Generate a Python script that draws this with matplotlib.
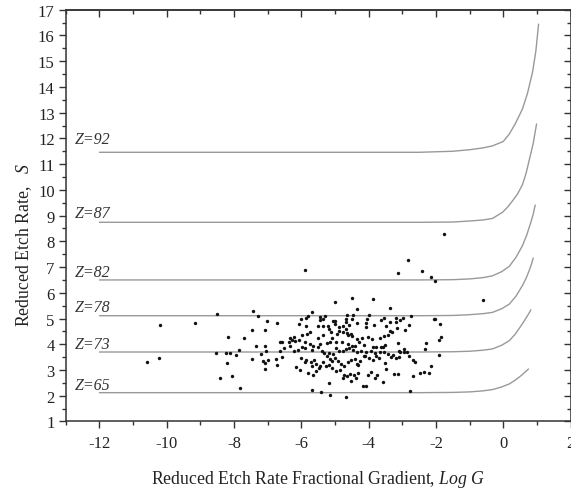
import matplotlib
matplotlib.use("Agg")
import matplotlib.pyplot as plt
from matplotlib.ticker import MultipleLocator

plt.rcParams['font.family'] = ['Liberation Serif', 'DejaVu Serif']
plt.rcParams['mathtext.fontset'] = 'custom'
plt.rcParams['mathtext.rm'] = 'Liberation Serif'
plt.rcParams['mathtext.it'] = 'Liberation Serif:italic'
plt.rcParams['axes.unicode_minus'] = False

# Model curves S(log G) for each atomic number Z
z_labels = ["Z=65", "Z=73", "Z=78", "Z=82", "Z=87", "Z=92"]
z_label_y = [2.43, 4.01, 5.44, 6.80, 9.10, 11.98]
curve_x = [
    [-12, -2.5, -1.5, -1.0, -0.6, -0.32, -0.05, 0.18, 0.36, 0.53, 0.65, 0.75],
    [-12, -2.5, -1.5, -1.0, -0.6, -0.32, -0.05, 0.18, 0.36, 0.53, 0.63, 0.72, 0.78, 0.82],
    [-12, -2.5, -1.5, -1.0, -0.6, -0.32, -0.05, 0.18, 0.38, 0.57, 0.68, 0.77, 0.84, 0.89],
    [-12, -2.5, -1.5, -1.0, -0.6, -0.32, -0.05, 0.18, 0.38, 0.57, 0.70, 0.82, 0.89, 0.95],
    [-12, -2.5, -1.5, -1.0, -0.6, -0.32, -0.02, 0.13, 0.28, 0.43, 0.57, 0.68, 0.78, 0.89, 0.99],
    [-12, -2.5, -1.5, -1.0, -0.6, -0.32, 0.0, 0.18, 0.35, 0.57, 0.72, 0.87, 0.97, 1.05],
]
curve_y = [
    [2.12, 2.12, 2.13, 2.15, 2.19, 2.24, 2.34, 2.46, 2.61, 2.78, 2.92, 3.04],
    [3.70, 3.70, 3.71, 3.73, 3.77, 3.82, 3.96, 4.14, 4.40, 4.72, 4.92, 5.11, 5.24, 5.34],
    [5.11, 5.11, 5.12, 5.15, 5.19, 5.24, 5.38, 5.56, 5.87, 6.28, 6.57, 6.86, 7.12, 7.35],
    [6.50, 6.50, 6.51, 6.54, 6.59, 6.66, 6.82, 7.03, 7.38, 7.83, 8.25, 8.74, 9.05, 9.41],
    [8.74, 8.74, 8.75, 8.79, 8.83, 8.89, 9.13, 9.33, 9.58, 9.85, 10.20, 10.65, 11.20, 11.80, 12.56],
    [11.46, 11.46, 11.50, 11.56, 11.63, 11.71, 11.88, 12.17, 12.55, 13.14, 13.75, 14.57, 15.40, 16.44],
]

# Measured tracks: log of fractional gradient vs reduced etch rate
log_g = [
    -10.21, -9.15, -8.52, -10.58, -10.22, -8.18, -7.71, -7.44, -7.30, -7.03,
    -6.72, -7.48, -7.07, -8.55, -8.24, -8.13, -7.86, -7.94, -7.34, -7.07,
    -7.06, -7.21, -7.47, -7.14, -7.00, -7.07, -6.76, -6.71, -7.07, -8.20,
    -8.42, -8.07, -7.83,
    -5.89, -2.82, -3.12, -2.41, -1.77, -2.15, -2.02, -0.59,
    -2.07, -2.02, -1.88, -1.85, -1.92, -1.90, -2.16,
    -5.00, -4.50, -3.87, -3.36, -4.35, -5.69, -5.79, -5.86, -6.00, -5.44,
    -5.36, -5.29, -5.45, -5.06, -4.99, -4.65, -4.47, -4.68, -4.50, -4.66,
    -3.99, -4.05, -4.08, -3.55, -3.64, -3.36, -3.20, -3.18, -2.99, -3.06,
    -2.73, -2.79, -6.07, -5.86, -5.50, -5.35, -5.21, -4.99, -4.87, -4.75,
    -4.57, -4.35, -4.08, -3.85, -3.48, -3.17, -2.93, -3.30, -3.38, -3.43,
    -3.55, -3.65, -3.90, -4.01, -4.21, -4.35, -4.51, -4.49, -4.61, -4.65,
    -4.67, -4.75, -4.88, -4.95, -5.12, -5.18, -5.35, -5.50, -5.73, -5.83,
    -5.99, -6.22, -6.33, -6.28, -6.37, -6.56, -6.62, -6.19, -6.07, -5.88,
    -5.74, -5.66, -5.46, -5.25, -5.15, -5.08, -4.98, -4.79, -4.62, -4.49,
    -4.41, -4.30, -4.14, -3.87, -3.78, -3.64, -3.50, -3.14, -2.95, -2.86,
    -3.09, -2.81, -3.11, -3.29, -3.42, -3.53, -3.57, -3.67, -3.82, -3.94,
    -4.07, -4.11, -4.22, -4.35, -4.47, -4.57, -4.66, -4.77, -4.89, -4.98,
    -5.05, -5.18, -5.24, -5.32, -5.39, -5.49, -5.68, -5.88, -5.99, -6.09,
    -6.23, -6.35, -6.53, -6.63, -6.56, -6.15, -6.03, -5.86, -5.72, -5.61,
    -5.56, -5.68, -5.44, -5.36, -5.28, -5.18, -5.09, -5.01, -4.91, -4.83,
    -4.72, -4.62, -4.53, -4.41, -4.34, -4.25, -4.15, -3.99, -3.87, -3.78,
    -3.68, -3.52, -3.35, -3.20, -3.06, -2.94, -2.67, -2.61, -2.33, -2.29,
    -5.16, -5.10, -4.97, -4.85, -4.74, -4.65, -4.56, -4.43, -4.38, -4.33,
    -4.32, -4.53, -4.75, -4.01, -3.93, -3.80, -3.74, -3.58, -3.47, -3.26,
    -3.13, -2.67, -2.47, -2.34, -2.22, -5.80, -5.65, -5.19, -5.69, -5.41,
    -5.15, -4.68, -4.18, -4.08, -2.78, -5.56, -5.48, -6.00, -5.88,
]
s_vals = [
    4.76, 4.83, 5.19, 3.32, 3.46, 4.30, 4.23, 5.29, 5.09, 4.89,
    4.82, 4.55, 4.55, 3.66, 3.66, 3.66, 3.77, 3.58, 3.92, 3.94,
    3.75, 3.63, 3.43, 3.36, 3.40, 3.27, 3.43, 3.21, 3.05, 3.27,
    2.68, 2.78, 2.30,
    6.89, 7.29, 6.77, 6.84, 8.27, 6.63, 6.45, 5.72,
    4.98, 4.98, 4.78, 4.27, 4.18, 3.57, 3.17,
    5.63, 5.79, 5.77, 5.41, 5.37, 5.25, 5.11, 5.01, 4.98, 5.07,
    4.98, 5.11, 4.94, 4.90, 4.92, 5.14, 5.15, 4.98, 4.98, 4.88,
    5.14, 4.98, 4.81, 5.03, 4.94, 4.88, 5.03, 4.85, 5.03, 4.94,
    5.09, 4.74, 4.79, 4.71, 4.72, 4.70, 4.70, 4.77, 4.66, 4.70,
    4.75, 4.83, 4.66, 4.74, 4.72, 4.65, 4.55, 4.49, 4.52, 4.35,
    4.31, 4.24, 4.21, 4.27, 4.24, 4.21, 4.40, 4.31, 4.36, 4.45,
    4.59, 4.49, 4.50, 4.40, 4.46, 4.59, 4.35, 4.24, 4.49, 4.40,
    4.36, 4.30, 4.24, 4.18, 4.10, 4.10, 4.08, 4.11, 4.15, 4.08,
    4.00, 3.92, 4.02, 4.04, 4.08, 4.23, 4.08, 4.08, 4.00, 3.95,
    3.95, 4.10, 3.96, 3.88, 3.91, 3.89, 3.97, 4.05, 3.82, 3.71,
    3.74, 3.56, 3.49, 3.58, 3.62, 3.69, 3.89, 3.69, 3.66, 3.73,
    3.71, 3.53, 3.74, 3.71, 3.76, 3.87, 3.80, 3.74, 3.75, 3.84,
    3.64, 3.65, 3.53, 3.67, 3.74, 3.88, 3.76, 3.87, 3.89, 3.79,
    3.74, 3.95, 3.87, 3.73, 3.52, 3.12, 3.01, 3.38, 3.33, 3.39,
    3.22, 3.17, 3.17, 3.33, 3.17, 3.19, 3.34, 3.45, 3.36, 3.23,
    3.17, 3.30, 3.38, 3.42, 3.22, 3.36, 3.53, 3.48, 3.39, 3.56,
    3.45, 3.27, 3.51, 3.45, 3.69, 3.69, 3.38, 3.33, 3.82, 4.05,
    3.43, 3.07, 2.97, 3.01, 2.82, 2.78, 2.83, 2.81, 2.68, 3.21,
    2.88, 2.57, 2.68, 2.82, 2.94, 2.68, 2.81, 2.52, 3.04, 2.83,
    2.85, 2.77, 2.88, 2.91, 2.88, 2.88, 2.82, 2.50, 2.24, 2.16,
    2.04, 1.94, 2.37, 2.37, 2.17, 2.98, 3.07, 3.45, 3.30,
]

x_major = [-12, -10, -8, -6, -4, -2, 0, 2]
y_major = list(range(1, 18))

fig = plt.figure(figsize=(5.71, 4.89), dpi=100)
ax = fig.add_axes([0.1152, 0.1360, 0.8840, 0.8421])

curve_color = "#999999"
for xs, ys in zip(curve_x, curve_y):
    ax.plot(xs, ys, color=curve_color, lw=1.0, solid_capstyle="round",
            solid_joinstyle="round")

for lab, ly in zip(z_labels, z_label_y):
    ax.text(-12.72, ly, lab, fontsize=11.5, style="italic",
            color="#333333", ha="left", va="center")

ax.scatter(log_g, s_vals, s=6, color="#111111", linewidths=0, zorder=3)

ax.set_xlim(-13, 2)
ax.set_ylim(1, 17)
ax.set_xticks(x_major)
ax.set_xticklabels([str(v) for v in x_major])
ax.set_yticks(y_major)
ax.xaxis.set_minor_locator(MultipleLocator(1))
ax.yaxis.set_minor_locator(MultipleLocator(0.5))

spine_color = "#333333"
for sp in ax.spines.values():
    sp.set_linewidth(1.1)
    sp.set_color(spine_color)

ax.tick_params(which="major", direction="out", length=5, width=1.0,
               color=spine_color, labelsize=12, labelcolor="#222222", pad=3)
ax.tick_params(which="minor", direction="out", length=3, width=1.0,
               color=spine_color)
ax.tick_params(axis="x", which="major", pad=5)

# inward ticks on the top and right edges
top = ax.secondary_xaxis("top")
top.set_xticks(x_major)
top.xaxis.set_minor_locator(MultipleLocator(1))
top.tick_params(which="major", direction="in", length=5, width=1.0,
                color=spine_color, labeltop=False)
top.tick_params(which="minor", direction="in", length=3, width=1.0,
                color=spine_color)
top.spines["top"].set_linewidth(1.1)
top.spines["top"].set_color(spine_color)

right = ax.secondary_yaxis("right")
right.set_yticks(y_major)
right.yaxis.set_minor_locator(MultipleLocator(0.5))
right.tick_params(which="major", direction="in", length=5, width=1.0,
                  color=spine_color, labelright=False)
right.tick_params(which="minor", direction="in", length=3, width=1.0,
                  color=spine_color)

ax.set_xlabel(r"Reduced Etch Rate Fractional Gradient, $Log\ G$",
              fontsize=12.8, color="#222222", labelpad=12)
fig.text(0.042, 1 - 245 / 489, r"Reduced Etch Rate,   $S$", rotation=90,
         fontsize=12.8, color="#222222", ha="center", va="center")

fig.savefig("out.png", dpi=100)
